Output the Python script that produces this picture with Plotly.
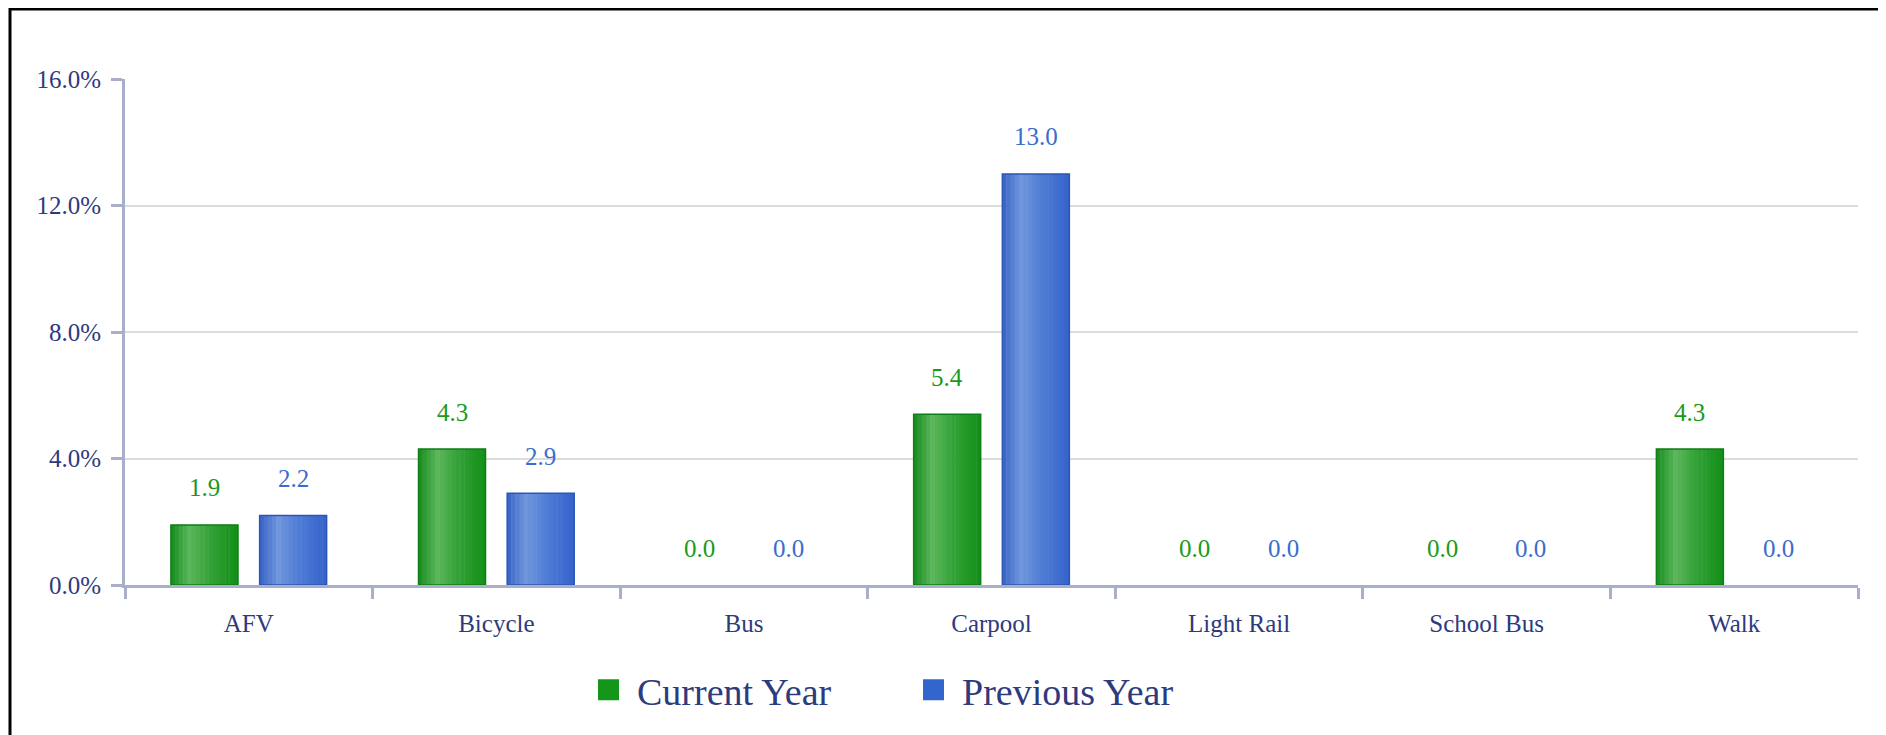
import plotly.graph_objects as go

categories = ["AFV", "Bicycle", "Bus", "Carpool", "Light Rail", "School Bus", "Walk"]
current_year = [1.9, 4.3, 0.0, 5.4, 0.0, 0.0, 4.3]
previous_year = [2.2, 2.9, 0.0, 13.0, 0.0, 0.0, 0.0]
series_names = ["Current Year", "Previous Year"]
y_tick_vals = [0, 4, 8, 12, 16]
y_tick_text = ["0.0%", "4.0%", "8.0%", "12.0%", "16.0%"]

# page body has an 8px margin; figure sized to fit the 1886x735 window
OFF = 8
W, H = 1886 - OFF, 735 - OFF
L, T = 125 - OFF, 79 - OFF
R = W - (1858 - OFF)
B = H - (585 - OFF)
PW, PH = W - L - R, H - T - B

FONT = "Liberation Serif, Times New Roman, serif"
AXIS_TXT = "#2e3a7e"
AXIS_LINE = "#a9aecb"

BAR_W = 0.2706
GAP_HALF = 0.0438
offsets = [-(GAP_HALF + BAR_W), GAP_HALF]

styles = [
    dict(stops=[(0, (0x15, 0x8c, 0x1c)), (0.28, (0x5c, 0xb6, 0x5c)), (0.6, (0x33, 0xa2, 0x36)), (1, (0x12, 0x8e, 0x18))],
         outline="#0e7e16", text="#1a9a1a", legend="#14961a"),
    dict(stops=[(0, (0x38, 0x62, 0xc4)), (0.28, (0x70, 0x97, 0xdd)), (0.6, (0x4e, 0x7b, 0xd4)), (1, (0x35, 0x63, 0xcb))],
         outline="#2a56b4", text="#3a6cd0", legend="#3366cc"),
]


def interp(stops, t):
    for (t0, c0), (t1, c1) in zip(stops[:-1], stops[1:]):
        if t0 <= t <= t1:
            f = (t - t0) / (t1 - t0) if t1 > t0 else 0
            c = [round(a + (b - a) * f) for a, b in zip(c0, c1)]
            return "rgb(%d,%d,%d)" % tuple(c)
    return "rgb(%d,%d,%d)" % stops[-1][1]


fig = go.Figure()
NSTRIP = 16
all_values = [current_year, previous_year]
for s, vals in enumerate(all_values):
    st = styles[s]
    sw = BAR_W / NSTRIP
    for k in range(NSTRIP):
        t = (k + 0.5) / NSTRIP
        fig.add_trace(go.Bar(
            x=categories, y=vals, width=sw + 0.002, offset=offsets[s] + k * sw - 0.001,
            marker=dict(color=interp(st["stops"], t), line=dict(width=0)),
            showlegend=False, hoverinfo="skip",
        ))
    fig.add_trace(go.Bar(
        x=categories, y=vals, width=BAR_W, offset=offsets[s], name=series_names[s],
        marker=dict(color="rgba(0,0,0,0)",
                    line=dict(color=st["outline"], width=[1.5 if v > 0 else 0 for v in vals])),
        showlegend=False,
    ))
    # legend proxy (square swatch)
    fig.add_trace(go.Scatter(
        x=[None], y=[None], mode="markers", name=series_names[s],
        marker=dict(symbol="square", size=16, color=st["legend"],
                    line=dict(color=st["legend"], width=5)),
    ))

# value labels
annotations = []
for s, vals in enumerate(all_values):
    center_shift = (offsets[s] + BAR_W / 2) * PW / len(categories)
    for c, v in zip(categories, vals):
        annotations.append(dict(
            x=c, y=v, xref="x", yref="y", text="%.1f" % v, showarrow=False,
            xshift=center_shift, yshift=37, yanchor="middle",
            font=dict(family=FONT, size=25, color=styles[s]["text"]),
        ))

# outer frame
fx0 = (10 - OFF - L) / PW
fx1 = (1883 - OFF - L) / PW
fy1 = (PH + T - (9 - OFF)) / PH
shapes = [dict(type="rect", xref="paper", yref="paper", x0=fx0, x1=fx1, y0=-0.6, y1=fy1,
               line=dict(color="black", width=3), fillcolor="rgba(0,0,0,0)", layer="above")]

fig.update_layout(
    width=W, height=H,
    margin=dict(l=L, r=R, t=T, b=B, pad=0),
    paper_bgcolor="white", plot_bgcolor="white",
    barmode="overlay",
    font=dict(family=FONT, size=25, color=AXIS_TXT),
    annotations=annotations,
    shapes=shapes,
    showlegend=True,
    legend=dict(
        orientation="h", x=(572 - L) / PW, xanchor="left",
        y=(PH + T - (690 - OFF)) / PH, yanchor="middle",
        font=dict(family=FONT, size=38, color=AXIS_TXT),
        bgcolor="rgba(0,0,0,0)", entrywidth=263, entrywidthmode="pixels",
        itemwidth=47, itemsizing="trace", traceorder="normal",
    ),
    xaxis=dict(
        type="category", categoryorder="array", categoryarray=categories,
        range=[-0.5, len(categories) - 0.5],
        showgrid=False, showline=True, linecolor=AXIS_LINE, linewidth=3,
        ticks="outside", tickson="boundaries", ticklen=11, tickwidth=3, tickcolor=AXIS_LINE,
        tickfont=dict(family=FONT, size=25, color=AXIS_TXT), ticklabelstandoff=14,
        fixedrange=True,
    ),
    yaxis=dict(
        range=[0, 16], tickvals=y_tick_vals, ticktext=y_tick_text,
        showgrid=True, gridcolor="#dcdcdc", gridwidth=2, zeroline=False,
        showline=True, linecolor=AXIS_LINE, linewidth=3,
        ticks="outside", ticklen=11, tickwidth=3, tickcolor=AXIS_LINE,
        tickfont=dict(family=FONT, size=25, color=AXIS_TXT), ticklabelstandoff=5,
        fixedrange=True,
    ),
)

fig.write_html("out.html", config={"displayModeBar": False})
